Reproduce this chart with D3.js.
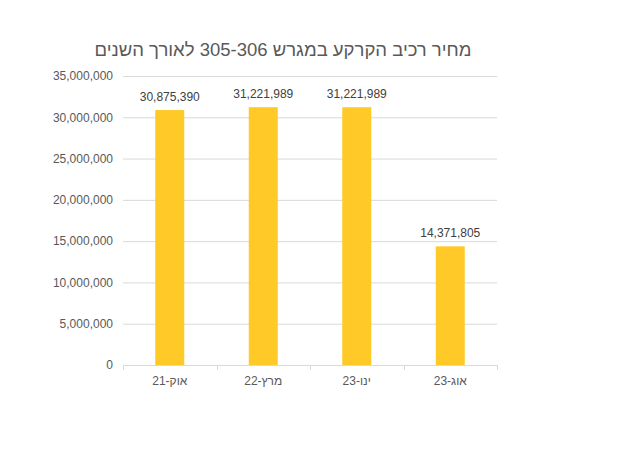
<!DOCTYPE html>
<html>
<head>
<meta charset="utf-8">
<script src="https://cdn.jsdelivr.net/npm/d3@7"></script>
<style>
  body { margin: 0; background: #fff; }
  text { font-family: "Liberation Sans", Arial, sans-serif; }
</style>
</head>
<body>
<div id="wrapper"></div>
<script>
const title = "מחיר רכיב הקרקע במגרש 305-306 לאורך השנים";
const categories = ["אוק-21", "מרץ-22", "ינו-23", "אוג-23"];
const values = [30875390, 31221989, 31221989, 14371805];
const yTicks = [0, 5000000, 10000000, 15000000, 20000000, 25000000, 30000000, 35000000];

const width = 617, height = 456;
const plot = { left: 123, right: 497, top: 76, bottom: 365 };

const svg = d3.select("#wrapper").append("svg")
  .attr("width", width)
  .attr("height", height);

const xScale = d3.scaleBand()
  .domain(categories)
  .range([plot.left, plot.right])
  .paddingInner(0.69)
  .paddingOuter(0.345);

const yScale = d3.scaleLinear()
  .domain([0, 35000000])
  .range([plot.bottom, plot.top]);

const fmt = d3.format(",");

// gridlines
svg.append("g")
  .selectAll("line")
  .data(yTicks.slice(1))
  .join("line")
  .attr("x1", plot.left)
  .attr("x2", plot.right)
  .attr("y1", d => yScale(d) + 0.5)
  .attr("y2", d => yScale(d) + 0.5)
  .attr("stroke", "#d9d9d9");

// y axis labels
const yAxis = d3.axisLeft(yScale).tickValues(yTicks).tickFormat(fmt).tickSize(0).tickPadding(10);
const gy = svg.append("g").attr("transform", `translate(${plot.left},0)`).call(yAxis);
gy.select(".domain").remove();
gy.selectAll("text").attr("fill", "#595959").style("font-size", "12px");

// x axis
const bandEdges = xScale.domain().map(d => xScale(d) - xScale.step() * xScale.paddingInner() / 2);
bandEdges.push(plot.right);
const gx = svg.append("g");
gx.append("line")
  .attr("x1", plot.left).attr("x2", plot.right)
  .attr("y1", plot.bottom + 0.5).attr("y2", plot.bottom + 0.5)
  .attr("stroke", "#d9d9d9");
gx.selectAll(".tick")
  .data(bandEdges)
  .join("line")
  .attr("x1", d => Math.round(d) + 0.5).attr("x2", d => Math.round(d) + 0.5)
  .attr("y1", plot.bottom).attr("y2", plot.bottom + 5)
  .attr("stroke", "#d9d9d9");
gx.selectAll("text")
  .data(categories)
  .join("text")
  .attr("x", d => xScale(d) + xScale.bandwidth() / 2)
  .attr("y", plot.bottom + 20)
  .attr("text-anchor", "middle")
  .attr("fill", "#595959")
  .style("font-size", "12px")
  .text(d => d);

// bars
svg.append("g")
  .selectAll("rect")
  .data(values)
  .join("rect")
  .attr("x", (d, i) => xScale(categories[i]))
  .attr("width", xScale.bandwidth())
  .attr("y", d => yScale(d))
  .attr("height", d => yScale(0) - yScale(d))
  .attr("fill", "#ffca28");

// data labels
svg.append("g")
  .selectAll("text")
  .data(values)
  .join("text")
  .attr("x", (d, i) => xScale(categories[i]) + xScale.bandwidth() / 2)
  .attr("y", d => yScale(d) - 9)
  .attr("text-anchor", "middle")
  .attr("fill", "#404040")
  .style("font-size", "12px")
  .text(d => fmt(d));

// title
svg.append("text")
  .attr("x", 283)
  .attr("y", 56)
  .attr("text-anchor", "middle")
  .attr("direction", "rtl")
  .attr("fill", "#595959")
  .style("font-size", "18.5px")
  .text(title);
</script>
</body>
</html>
